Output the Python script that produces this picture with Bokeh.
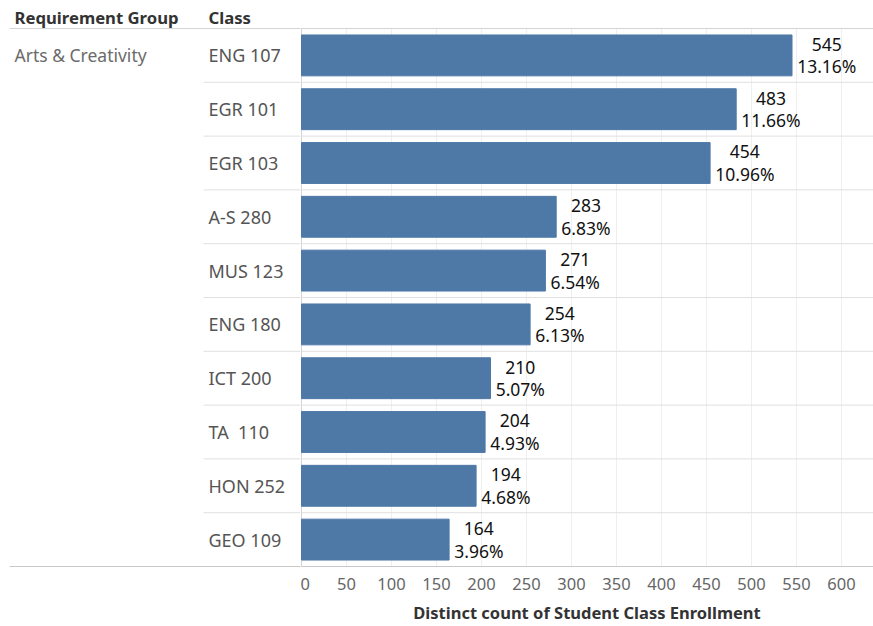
from bokeh.plotting import figure
from bokeh.layouts import row
from bokeh.models import ColumnDataSource, Range1d, FixedTicker
from bokeh.core.properties import value
from bokeh.embed import file_html
from bokeh.resources import INLINE

# ---- data ----
group_name = "Arts & Creativity"
classes = ["ENG 107", "EGR 101", "EGR 103", "A-S 280", "MUS 123",
           "ENG 180", "ICT 200", "TA  110", "HON 252", "GEO 109"]
counts = [545, 483, 454, 283, 271, 254, 210, 204, 194, 164]
pcts = ["13.16%", "11.66%", "10.96%", "6.83%", "6.54%",
        "6.13%", "5.07%", "4.93%", "4.68%", "3.96%"]
x_ticks = [0, 50, 100, 150, 200, 250, 300, 350, 400, 450, 500, 550, 600]
x_title = "Distinct count of Student Class Enrollment"

FONT = "Noto Sans"
n = len(classes)
idx = list(range(n))

# ---- layout constants ----
W, H = 873, 626
LEFT_W = 300
RIGHT_W = W - LEFT_W
ROW_PX = 53.8
PX_PER_UNIT = 0.9
FRAME_H = 567


def text_w(s, size=17.5):
    w = 0.0
    for ch in s:
        if ch.isdigit():
            w += 0.572
        elif ch == ".":
            w += 0.268
        elif ch == "%":
            w += 0.846
        else:
            w += 0.55
    return w * size


yr = Range1d(n - 0.5 + 1 / ROW_PX, -0.5 - 28 / ROW_PX)

# ---- left panel (headers + class labels) ----
left = figure(frame_width=LEFT_W, frame_height=FRAME_H, output_backend="svg",
              toolbar_location=None, x_range=Range1d(0, LEFT_W), y_range=yr,
              min_border_left=0, min_border_right=0, min_border_top=0,
              min_border_bottom=0)
left.axis.visible = False
left.grid.visible = False
left.outline_line_color = None
left.background_fill_color = "white"
left.border_fill_color = "white"

hdr_y = -0.5 - 11 / ROW_PX
left.text(x=[14], y=[hdr_y], text=["Requirement Group"], text_font=value(FONT),
          text_font_size="16.7px", text_font_style="bold", text_color="#333333",
          text_baseline="middle", text_align="left")
left.text(x=[208], y=[hdr_y], text=["Class"], text_font=value(FONT),
          text_font_size="16.7px", text_font_style="bold", text_color="#333333",
          text_baseline="middle", text_align="left")
left.text(x=[14], y=[0], text=[group_name], text_font=value(FONT),
          text_font_size="17.5px", text_color="#6b6b6b",
          text_baseline="middle", text_align="left")
lsrc = ColumnDataSource(dict(y=idx, c=[c.replace("  ", "\u00a0 ") for c in classes]))
left.text(x=208, y="y", text="c", source=lsrc, text_font=value(FONT),
          text_font_size="18px", text_color="#555555",
          text_baseline="middle", text_align="left")

# lines in left panel
left.segment(x0=[9], x1=[LEFT_W], y0=[-0.5], y1=[-0.5], line_color="#d4d4d4", line_width=1)
left.segment(x0=[9], x1=[LEFT_W], y0=[n - 0.5], y1=[n - 0.5], line_color="#c8c8c8", line_width=1)
sep_y = [i + 0.5 for i in range(n - 1)]
left.segment(x0=[203] * len(sep_y), x1=[LEFT_W] * len(sep_y), y0=sep_y, y1=sep_y,
             line_color="#e0e0e0", line_width=1)

# ---- right panel (bars) ----
x0 = -1 / PX_PER_UNIT
xr_end = x0 + RIGHT_W / PX_PER_UNIT
right = figure(frame_width=RIGHT_W, frame_height=FRAME_H, output_backend="svg",
               toolbar_location=None, x_range=Range1d(x0, xr_end), y_range=yr,
               min_border_left=0, min_border_right=0, min_border_top=0,
               min_border_bottom=0)
right.outline_line_color = None
right.background_fill_color = "white"
right.border_fill_color = "white"
right.yaxis.visible = False
right.grid.visible = False
right.xaxis.ticker = FixedTicker(ticks=x_ticks)
right.xaxis.axis_line_color = None
right.xaxis.major_tick_line_color = None
right.xaxis.minor_tick_line_color = None
right.xaxis.major_tick_out = 0
right.xaxis.major_tick_in = 0
right.xaxis.major_label_text_font = FONT
right.xaxis.major_label_text_font_size = "16.5px"
right.xaxis.major_label_text_color = "#666666"
right.xaxis.major_label_standoff = 10
right.xaxis.axis_label = x_title
right.xaxis.axis_label_text_font = FONT
right.xaxis.axis_label_text_font_size = "16.5px"
right.xaxis.axis_label_text_font_style = "bold"
right.xaxis.axis_label_text_color = "#333333"
right.xaxis.axis_label_standoff = 8

# gridlines only within the rows area
right.segment(x0=x_ticks, x1=x_ticks, y0=[-0.5] * len(x_ticks), y1=[n - 0.5] * len(x_ticks),
              line_color="#efefef", line_width=1)
right.segment(x0=[x0], x1=[xr_end], y0=[-0.5], y1=[-0.5], line_color="#d4d4d4", line_width=1)
right.segment(x0=[x0], x1=[xr_end], y0=[n - 0.5], y1=[n - 0.5], line_color="#c8c8c8", line_width=1)
right.segment(x0=[x0] * len(sep_y), x1=[xr_end] * len(sep_y), y0=sep_y, y1=sep_y,
              line_color="#e0e0e0", line_width=1)
right.segment(x0=[0], x1=[0], y0=[-0.5], y1=[n - 0.5], line_color="#d4d4d4", line_width=1)

src = ColumnDataSource(dict(
    y=idx, v=counts, vs=[str(c) for c in counts], p=pcts,
    yc=[i - 0.205 for i in idx], yp=[i + 0.205 for i in idx],
    off=[5 + text_w(p) / 2 for p in pcts],
))
right.hbar(y="y", left=0, right="v", height=0.76, source=src,
           fill_color="#4e79a7", line_color="#4e79a7")
right.text(x="v", y="yc", text="vs", x_offset="off", source=src, text_font=value(FONT),
           text_font_size="17.5px", text_color="#111111",
           text_baseline="middle", text_align="center")
right.text(x="v", y="yp", text="p", x_offset="off", source=src, text_font=value(FONT),
           text_font_size="17.5px", text_color="#111111",
           text_baseline="middle", text_align="center")

layout = row(left, right, spacing=0)
open("out.html", "w").write(file_html(layout, INLINE))
